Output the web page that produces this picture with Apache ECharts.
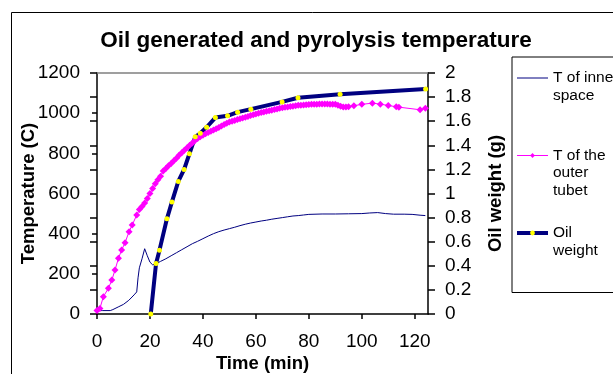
<!DOCTYPE html>
<html><head><meta charset="utf-8">
<script src="https://cdn.jsdelivr.net/npm/echarts@6/dist/echarts.min.js"></script>
<style>html,body{margin:0;padding:0;background:#fff}#c{width:613px;height:374px}</style>
</head><body><div id="c"></div>
<script>
const chartTitle = 'Oil generated and pyrolysis temperature';
const seriesNames = ['T of inner space', 'T of the outer tubet', 'Oil weight'];
const legendLines = [['T of inner', 'space'], ['T of the', 'outer', 'tubet'], ['Oil', 'weight']];
const xTickValues = [0, 20, 40, 60, 80, 100, 120];

const innerTime = [0, 2, 5, 6, 8, 10, 12, 14, 15, 15.5, 16, 17, 18, 18.5, 19, 20, 21, 22, 23, 24, 26, 28, 30, 32, 34, 36, 38, 40, 42, 44, 46, 48, 50, 52, 54, 56, 58, 60, 62, 64, 66, 68, 70, 72, 74, 76, 78, 80, 85, 90, 95, 100, 103, 106, 109, 112, 116, 119, 122, 124];
const innerTemp = [17, 17, 17, 22, 35, 48, 68, 95, 110, 180, 230, 275, 325, 318, 290, 258, 245, 248, 255, 262, 275, 290, 305, 320, 335, 350, 362, 375, 388, 400, 410, 418, 425, 432, 440, 447, 453, 458, 463, 467, 472, 476, 480, 484, 488, 490, 493, 496, 498, 498, 499, 500, 503, 505, 500, 497, 497, 496, 492, 490];

const outerTime = [0, 1.1, 2.4, 4.3, 5.6, 6.8, 8.1, 9.3, 10.6, 12.1, 13.3, 15, 16, 17, 18, 19, 20, 21, 22, 23, 24, 25, 26, 27, 28, 29, 30, 31, 32, 33, 34, 35, 36, 37, 38, 39, 40, 41, 42, 43, 44, 45, 46, 47, 48, 49, 50, 51, 52, 53, 54, 55, 56, 57, 58, 59, 60, 61, 62, 63, 64, 65, 66, 67, 68, 69, 70, 71, 72, 73, 74, 75, 76, 77, 78, 79, 80, 81, 82, 83, 84, 85, 86, 87, 88, 89, 90, 91, 92, 93, 94, 95, 97, 100, 104, 107, 110, 113, 114, 122, 124];
const outerTemp = [18, 28, 86, 128, 169, 219, 277, 319, 355, 410, 443, 493, 520, 535, 553, 575, 600, 625, 648, 668, 686, 712, 725, 738, 750, 763, 776, 790, 803, 815, 828, 840, 852, 864, 874, 882, 890, 897, 904, 910, 916, 922, 929, 936, 943, 950, 956, 960, 964, 968, 972, 976, 980, 984, 988, 992, 996, 999, 1003, 1006, 1009, 1012, 1015, 1018, 1021, 1024, 1027, 1029, 1031, 1033, 1035, 1037, 1039, 1040, 1041, 1042, 1043, 1044, 1045, 1045, 1046, 1046, 1046, 1046, 1045, 1045, 1044, 1040, 1034, 1031, 1031, 1032, 1037, 1044, 1050, 1045, 1038, 1032, 1030, 1017, 1024];

const oilTime = [20.3, 22.3, 23.6, 26.4, 28.3, 30.7, 32.9, 34.9, 37.1, 39, 41.4, 44.7, 49.3, 53.1, 58.1, 69.9, 75.9, 91.8, 124.1];
const oilWeight = [0, 0.42, 0.53, 0.79, 0.93, 1.1, 1.2, 1.33, 1.47, 1.5, 1.55, 1.63, 1.645, 1.675, 1.7, 1.76, 1.795, 1.823, 1.867];

const zip = (a, b) => a.map((v, i) => [v, b[i]]);
const FONT = "'Liberation Sans', Arial, sans-serif";
const LH = 17.5;
const plain = v => String(v);

const chart = echarts.init(document.getElementById('c'), null, {renderer: 'canvas'});
chart.setOption({
  animation: false,
  backgroundColor: '#fff',
  textStyle: {fontFamily: FONT},
  title: {
    text: chartTitle, left: 316, top: 29, textAlign: 'center', padding: 0,
    textStyle: {fontFamily: FONT, fontSize: 22.5, fontWeight: 'bold', color: '#000'}
  },
  graphic: [{
    type: 'rect', silent: true, z: -1,
    shape: {x: 11.5, y: 12.5, width: 700, height: 500},
    style: {fill: 'none', stroke: '#000', lineWidth: 1}
  }],
  legend: {
    orient: 'vertical', left: 512, top: 57,
    padding: [13, 10, 34, 3],
    itemWidth: 31, itemHeight: 6, itemGap: 26.5,
    borderColor: '#000', borderWidth: 1,
    selectedMode: false,
    textStyle: {
      fontFamily: FONT, fontSize: 15.5, color: '#000',
      rich: {
        a: {fontFamily: FONT, fontSize: 15.5, lineHeight: LH, color: '#000'},
        h: {fontFamily: FONT, fontSize: 15.5, lineHeight: LH, color: 'rgba(0,0,0,0)'}
      }
    },
    formatter: name => {
      const i = seriesNames.indexOf(name);
      let s = legendLines[i].map(l => '{a|' + l + '}').join('\n');
      if (i === 0) s += '\n{h|.}';
      return s;
    },
    data: [
      {name: seriesNames[0], textStyle: {padding: [2 * LH, 0, 0, 0]}, itemStyle: {opacity: 0, borderWidth: 0}, lineStyle: {width: 1}},
      {name: seriesNames[1], textStyle: {padding: [2 * LH, 0, 0, 0]}, itemStyle: {borderWidth: 0}, lineStyle: {width: 1}},
      {name: seriesNames[2], textStyle: {padding: [LH, 0, 0, 0]}, itemStyle: {borderWidth: 0}, lineStyle: {width: 4}}
    ]
  },
  grid: {left: 97, right: 185, top: 73, bottom: 60, containLabel: false, outerBoundsMode: 'none'},
  xAxis: [{
    type: 'value', min: 0, max: 125, interval: 20,
    name: 'Time (min)', nameLocation: 'middle', nameGap: 40, nameMoveOverlap: false,
    nameTextStyle: {fontFamily: FONT, fontSize: 18.5, fontWeight: 'bold', color: '#000'},
    axisLine: {show: true, onZero: false, lineStyle: {color: '#000', width: 1.5}},
    axisTick: {show: true, length: 5, inside: false, customValues: xTickValues, lineStyle: {color: '#000', width: 1.5}},
    axisLabel: {margin: 18, fontFamily: FONT, fontSize: 19, color: '#000', customValues: xTickValues, formatter: plain},
    splitLine: {show: false}
  }, {
    type: 'value', min: 0, max: 125, position: 'top',
    axisLine: {show: true, onZero: false, lineStyle: {color: '#808080', width: 1.5}},
    axisTick: {show: false}, axisLabel: {show: false}, splitLine: {show: false}
  }],
  yAxis: [{
    type: 'value', min: 0, max: 1200, interval: 200, position: 'left',
    name: 'Temperature (C)', nameLocation: 'middle', nameGap: 59, nameRotate: 90, nameMoveOverlap: false,
    nameTextStyle: {fontFamily: FONT, fontSize: 18.5, fontWeight: 'bold', color: '#000'},
    axisLine: {show: true, onZero: false, lineStyle: {color: '#000', width: 1.5}},
    axisTick: {show: true, length: 5, inside: false, lineStyle: {color: '#000', width: 1.5}},
    axisLabel: {margin: 17, fontFamily: FONT, fontSize: 19, color: '#000', formatter: plain},
    splitLine: {show: false}
  }, {
    type: 'value', min: 0, max: 2, interval: 0.2, position: 'right',
    name: 'Oil weight (g)', nameLocation: 'middle', nameGap: 58, nameRotate: 90, nameMoveOverlap: false,
    nameTextStyle: {fontFamily: FONT, fontSize: 18.5, fontWeight: 'bold', color: '#000'},
    axisLine: {show: true, onZero: false, lineStyle: {color: '#000', width: 1.5}},
    axisTick: {show: true, length: 7, inside: false, lineStyle: {color: '#000', width: 1.5}},
    axisLabel: {margin: 17, fontFamily: FONT, fontSize: 19, color: '#000'},
    splitLine: {show: false}
  }, {
    type: 'value', min: 0, max: 2, interval: 0.2, position: 'right',
    axisLine: {show: false},
    axisTick: {show: true, length: 7, inside: true, lineStyle: {color: '#000', width: 1.5}},
    axisLabel: {show: false}, splitLine: {show: false}
  }],
  series: [{
    name: seriesNames[0], type: 'line', xAxisIndex: 0, yAxisIndex: 0,
    data: zip(innerTime, innerTemp),
    symbol: 'none', showSymbol: false,
    lineStyle: {color: '#000080', width: 1},
    itemStyle: {color: '#000080'}
  }, {
    name: seriesNames[1], type: 'line', xAxisIndex: 0, yAxisIndex: 0,
    data: zip(outerTime, outerTemp),
    symbol: 'diamond', symbolSize: 7,
    lineStyle: {color: '#ff00ff', width: 1},
    itemStyle: {color: '#ff00ff', borderWidth: 0}
  }, {
    name: seriesNames[2], type: 'line', xAxisIndex: 0, yAxisIndex: 1,
    data: zip(oilTime, oilWeight),
    symbol: 'circle', symbolSize: 5,
    lineStyle: {color: '#000080', width: 4},
    itemStyle: {color: '#ffff00', borderWidth: 0}
  }]
});
</script>
</body></html>
